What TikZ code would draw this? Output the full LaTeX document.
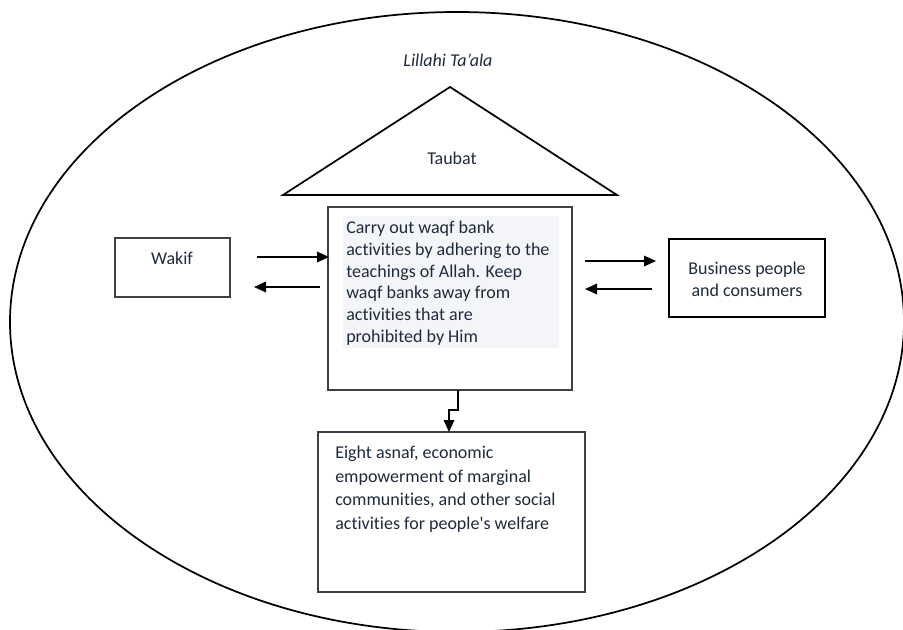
\documentclass[tikz,border=0pt]{standalone}
\usepackage{fontspec}
\setmainfont[Ligatures=NoCommon]{Carlito}
\usetikzlibrary{arrows.meta}
\definecolor{txt}{HTML}{1F2A3A}
\definecolor{hl}{HTML}{F3F5F8}
\tikzset{
  px/.style={x=0.75pt,y=-0.75pt},
  box/.style={draw=black!75,line width=0.9pt},
  arr/.style={line width=0.9pt,-{Triangle[length=9pt,width=8pt]}},
  lbl/.style={text=txt,font=\fontsize{13.5}{16.3}\selectfont,inner sep=0pt}
}
\begin{document}
\begin{tikzpicture}[px]
\useasboundingbox (0,0) rectangle (903,629);
\fill[white] (0,0) rectangle (903,629);
% outer ellipse
\draw[line width=1.3pt] (457,322) ellipse [x radius=447, y radius=310];
\node[lbl,font=\fontsize{13.5}{16.1}\selectfont\itshape] (title) at (448,60) {Lillahi Ta’ala};
% triangle
\draw[line width=1.3pt] (283,195) coordinate (tl) -- (450,87) coordinate (tp) -- (617,195) coordinate (tr) -- cycle;
\node[lbl] (taubat) at (452,158) {Taubat};
% center box
\draw[box] (328,207) rectangle (572,390);
\fill[hl] (343,216) rectangle (559,348);
\node[lbl,anchor=north west,align=left] (center) at (346,221) {Carry out waqf bank\\activities by adhering to the\\teachings of Allah. Keep\\waqf banks away from\\activities that are\\prohibited by Him};
% wakif
\draw[box] (115,238) rectangle (230,297);
\node[lbl] (wakif) at (172,258) {Wakif};
% business
\draw[line width=1.6pt] (669,239) rectangle (825,317);
\node[lbl,align=center] (bus) at (747,279) {Business people\\and consumers};
% arrows left
\coordinate (a1s) at (257,257);
\coordinate (a1e) at (329,257);
\coordinate (a2s) at (320,287);
\coordinate (a2e) at (254,287);
\draw[arr] (a1s) -- (a1e);
\draw[arr] (a2s) -- (a2e);
% arrows right
\coordinate (a3s) at (585,261);
\coordinate (a3e) at (656,261);
\coordinate (a4s) at (652,289);
\coordinate (a4e) at (585,289);
\draw[arr] (a3s) -- (a3e);
\draw[arr] (a4s) -- (a4e);
% bottom box
\draw[box] (318,432) rectangle (585,592);
\node[lbl,anchor=north west,align=left,font=\fontsize{13.5}{17.6}\selectfont] (bottom) at (335,446) {Eight asnaf, economic\\empowerment of marginal\\communities, and other social\\activities for people\textquotesingle s welfare};
% down connector
\coordinate (d1) at (458,390);
\coordinate (d2) at (449,432);
\draw[arr] (d1) -- (458,410) -- (449,410) -- (d2);
\end{tikzpicture}
\end{document}
